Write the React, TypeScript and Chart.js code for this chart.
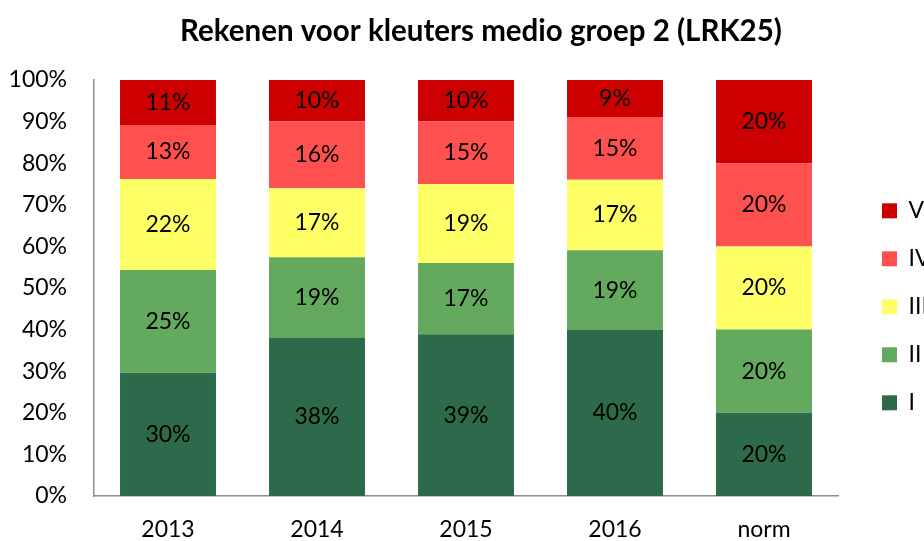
import React, { useEffect, useRef } from "react";
import { Chart, registerables } from "chart.js";

Chart.register(...registerables);

const title = "Rekenen voor kleuters medio groep 2 (LRK25)";
const categories = ["2013", "2014", "2015", "2016", "norm"];
const seriesNames = ["I", "II", "III", "IV", "V"];
const seriesColors = ["#2D6A4A", "#63AA5F", "#FFFF66", "#FF5050", "#CC0000"];
const valuesI = [29.6, 38.0, 38.9, 39.9, 20];
const valuesII = [24.7, 19.4, 17.1, 19.2, 20];
const valuesIII = [21.9, 16.6, 19.0, 16.9, 20];
const valuesIV = [13.0, 16.1, 15.1, 15.1, 20];
const valuesV = [10.8, 9.9, 9.9, 8.9, 20];
const seriesValues = [valuesI, valuesII, valuesIII, valuesIV, valuesV];
const yTickMax = 100;
const yTickStep = 10;

const FONT = "Lato, 'Noto Sans', sans-serif";

const valueLabels = {
  id: "valueLabels",
  afterDatasetsDraw(chart: any) {
    const ctx = chart.ctx;
    ctx.save();
    ctx.font = `23px ${FONT}`;
    ctx.fillStyle = "#000000";
    ctx.textAlign = "center";
    ctx.textBaseline = "middle";
    chart.data.datasets.forEach((ds: any, di: number) => {
      const meta = chart.getDatasetMeta(di);
      meta.data.forEach((el: any, i: number) => {
        const v = ds.data[i];
        const yc = (el.y + el.base) / 2;
        ctx.fillText(`${Math.round(v)}%`, el.x, yc);
      });
    });
    ctx.restore();
  },
};

const chartTitle = {
  id: "chartTitle",
  afterDraw(chart: any) {
    const ctx = chart.ctx;
    ctx.save();
    ctx.font = `bold 29.5px ${FONT}`;
    ctx.fillStyle = "#000000";
    ctx.textAlign = "center";
    ctx.textBaseline = "middle";
    ctx.fillText(title, chart.width / 2 + 19, 31);
    ctx.restore();
  },
};

export default function App() {
  const ref = useRef<HTMLCanvasElement | null>(null);

  useEffect(() => {
    document.body.style.margin = "0";
    const canvas = ref.current;
    if (!canvas) return;
    const chart = new Chart(canvas, {
      type: "bar",
      data: {
        labels: categories,
        datasets: seriesNames.map((name, i) => ({
          label: name,
          data: seriesValues[i],
          backgroundColor: seriesColors[i],
          borderWidth: 0,
          categoryPercentage: 1,
          barPercentage: 0.644,
        })),
      },
      options: {
        animation: false,
        responsive: true,
        maintainAspectRatio: false,
        layout: { padding: { left: 0, right: 0, top: 80, bottom: 0 } },
        plugins: {
          title: { display: false },
          legend: {
            display: true,
            position: "right",
            reverse: true,
            fullSize: false,
            maxWidth: 67,
            title: { display: true, text: "", font: { size: 12, lineHeight: 1.2 }, padding: { top: 0, bottom: 23.2 } },
            labels: {
              boxWidth: 15,
              boxHeight: 15,
              padding: 25,
              color: "#000000",
              font: { family: FONT, size: 23 },
            },
          },
          tooltip: { enabled: false },
        },
        scales: {
          x: {
            stacked: true,
            grid: { display: false, drawTicks: false },
            border: { display: true, color: "#8F8F8F", width: 1.5 },
            ticks: { color: "#000000", font: { family: FONT, size: 23 }, padding: 20 },
            afterFit: (s: any) => {
              s.height = 45;
            },
          },
          y: {
            stacked: true,
            min: 0,
            max: yTickMax,
            grid: { display: false, drawTicks: false },
            border: { display: true, color: "#8F8F8F", width: 1.5 },
            ticks: {
              stepSize: yTickStep,
              color: "#000000",
              font: { family: FONT, size: 23 },
              padding: 26.5,
              callback: (v: any) => `${v}%`,
            },
            afterFit: (s: any) => {
              s.width = 93.5;
            },
          },
          gap: {
            type: "linear",
            position: "right",
            display: true,
            grid: { display: false, drawTicks: false },
            border: { display: false },
            ticks: { display: false },
            afterFit: (s: any) => {
              s.width = 18.5;
            },
          },
        },
      },
      plugins: [valueLabels, chartTitle],
    } as any);
    return () => chart.destroy();
  }, []);

  return (
    <div style={{ width: 924, height: 541, position: "relative" }}>
      <canvas ref={ref} />
    </div>
  );
}
